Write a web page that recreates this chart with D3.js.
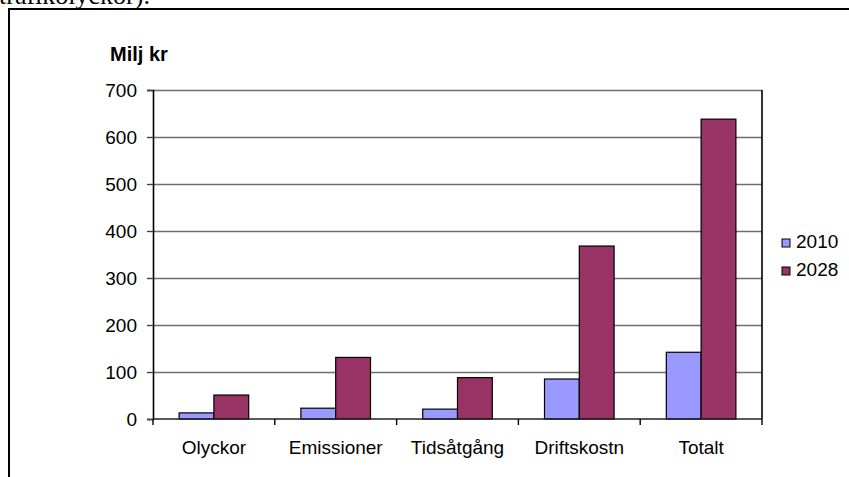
<!DOCTYPE html>
<html>
<head>
<meta charset="utf-8">
<script src="https://cdn.jsdelivr.net/npm/d3@7"></script>
<style>
  html, body { margin: 0; padding: 0; background: #fff; }
  svg { display: block; }
</style>
</head>
<body>
<svg id="chart" width="849" height="477"></svg>
<script>
// Samhällsekonomiska kostnader per post, miljoner kronor
const categories = ["Olyckor", "Emissioner", "Tidsåtgång", "Driftskostn", "Totalt"];
const seriesNames = ["2010", "2028"];
const values2010 = [13, 23, 21, 85, 142];
const values2028 = [51, 131, 88, 368, 638];
const yTicks = [0, 100, 200, 300, 400, 500, 600, 700];
const seriesColors = ["#9999FF", "#993366"];

const svg = d3.select("#chart");
const font = "'Liberation Sans', Arial, sans-serif";
const fs = 19;

// Text fragment above the frame (continuation of the surrounding document)
svg.append("text")
  .attr("x", -1).attr("y", 4)
  .attr("font-family", "'Liberation Serif', 'Times New Roman', serif")
  .attr("font-size", 26)
  .text("trafikolyckor).");

// Frame around the chart object
svg.append("path")
  .attr("d", "M9,480 V9 H852")
  .attr("fill", "none").attr("stroke", "#000").attr("stroke-width", 2);

const plot = { left: 153, right: 762, top: 90, bottom: 419 };

const x0 = d3.scaleBand().domain(categories)
  .range([plot.left, plot.right]).paddingInner(0).paddingOuter(0);
// Gap width of 150%: two bars per group, gap = 1.5 bar widths
const barW = x0.bandwidth() / 3.5;
const x1 = d3.scaleBand().domain(seriesNames)
  .range([0, barW * 2]).padding(0);

const y = d3.scaleLinear().domain([0, 700]).range([plot.bottom, plot.top]);

// Horizontal gridlines
svg.append("g")
  .selectAll("line").data(yTicks.filter(t => t > 0)).join("line")
  .attr("x1", plot.left).attr("x2", plot.right)
  .attr("y1", d => Math.round(y(d)) + 0.5).attr("y2", d => Math.round(y(d)) + 0.5)
  .attr("stroke", "#6e6e6e").attr("stroke-width", 1.4);

// Right border of plot area
svg.append("line")
  .attr("x1", plot.right).attr("x2", plot.right)
  .attr("y1", plot.top).attr("y2", plot.bottom)
  .attr("stroke", "#000").attr("stroke-width", 1.6);

// Bars
const rows = categories.map((c, i) => ({ cat: c, vals: [values2010[i], values2028[i]] }));
const groups = svg.append("g").selectAll("g").data(rows).join("g")
  .attr("transform", d => `translate(${x0(d.cat) + (x0.bandwidth() - barW * 2) / 2},0)`);
groups.selectAll("rect")
  .data(d => d.vals.map((v, k) => ({ key: seriesNames[k], v, k })))
  .join("rect")
  .attr("x", d => x1(d.key))
  .attr("width", x1.bandwidth())
  .attr("y", d => y(d.v))
  .attr("height", d => y(0) - y(d.v))
  .attr("fill", d => seriesColors[d.k])
  .attr("stroke", "#000").attr("stroke-width", 1.2);

// Y axis
const yAxis = d3.axisLeft(y).tickValues(yTicks).tickSize(6).tickPadding(10).tickFormat(d3.format("d"));
const gy = svg.append("g").attr("transform", `translate(${plot.left},0)`).call(yAxis);
gy.select(".domain").attr("stroke", "#000").attr("stroke-width", 1.6);
gy.selectAll(".tick line").attr("stroke", "#444").attr("stroke-width", 1.4);
gy.selectAll(".tick text").attr("font-family", font).attr("font-size", fs).attr("fill", "#000");

// X axis with ticks at category boundaries
const gx = svg.append("g").attr("transform", `translate(0,${plot.bottom})`);
gx.append("line")
  .attr("x1", plot.left).attr("x2", plot.right).attr("y1", 0).attr("y2", 0)
  .attr("stroke", "#222").attr("stroke-width", 1.6);
const bounds = categories.map(c => x0(c)).concat([plot.right]);
gx.selectAll("line.tk").data(bounds).join("line").attr("class", "tk")
  .attr("x1", d => d).attr("x2", d => d).attr("y1", 0).attr("y2", 6)
  .attr("stroke", "#000").attr("stroke-width", 1.4);
gx.selectAll("text").data(categories).join("text")
  .attr("x", d => x0(d) + x0.bandwidth() / 2).attr("y", 35)
  .attr("text-anchor", "middle")
  .attr("font-family", font).attr("font-size", fs)
  .text(d => d);

// Axis title
svg.append("text")
  .attr("x", 110).attr("y", 61)
  .attr("font-family", font).attr("font-size", 20).attr("font-weight", "bold")
  .text("Milj kr");

// Legend
const legend = svg.append("g").selectAll("g").data(seriesNames).join("g")
  .attr("transform", (d, i) => `translate(782,${239 + i * 28})`);
legend.append("rect")
  .attr("width", 8).attr("height", 8)
  .attr("fill", (d, i) => seriesColors[i])
  .attr("stroke", "#000").attr("stroke-width", 1);
legend.append("text")
  .attr("x", 14).attr("y", 8.5)
  .attr("font-family", font).attr("font-size", fs)
  .text(d => d);
</script>
</body>
</html>
